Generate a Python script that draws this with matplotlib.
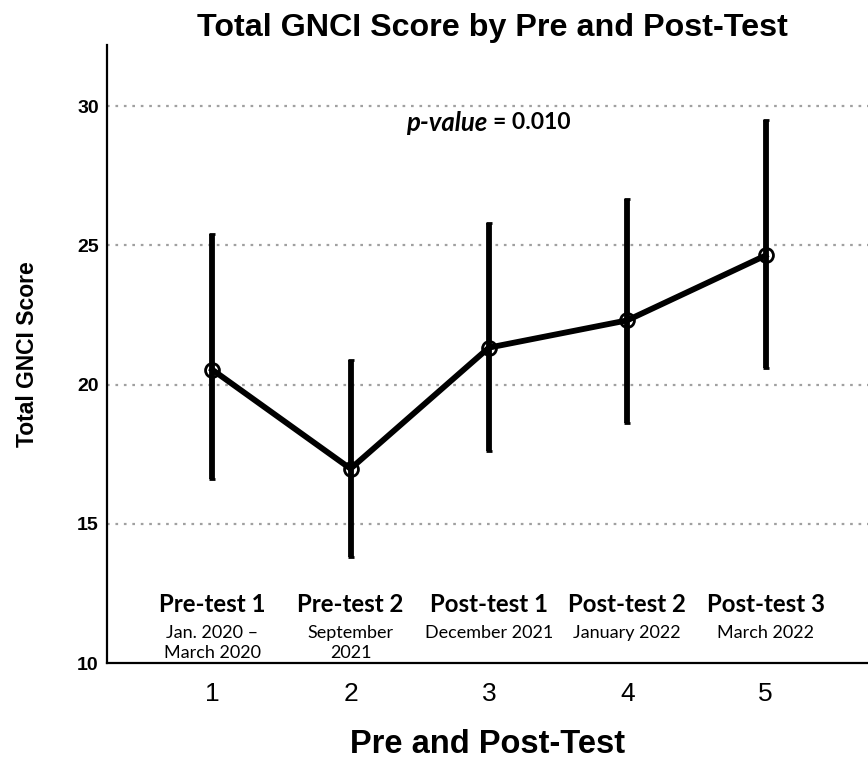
import matplotlib.pyplot as plt

# values
tests = [1, 2, 3, 4, 5]
means = [20.54, 16.98, 21.33, 22.31, 24.64]
upper = [25.42, 20.88, 25.82, 26.68, 29.52]
lower = [16.60, 13.80, 17.60, 18.62, 20.59]
phase_names = ["Pre-test 1", "Pre-test 2", "Post-test 1", "Post-test 2", "Post-test 3"]
phase_dates = ["Jan. 2020 \u2013\nMarch 2020", "September\n2021", "December 2021",
               "January 2022", "March 2022"]
y_ticks = [10, 15, 20, 25, 30]

err_lo = [m - l for m, l in zip(means, lower)]
err_hi = [u - m for u, m in zip(upper, means)]

fig = plt.figure(figsize=(8.68, 7.63), dpi=100)
ax = fig.add_axes([0.1233, 0.131, 0.8767, 0.810])

# dotted grid
for yv in y_ticks[1:]:
    ax.axhline(yv, color="#a0a0a0", linestyle=(0, (1.2, 2.6)), linewidth=1.6, zorder=0)

ax.errorbar(tests, means, yerr=[err_lo, err_hi], fmt="none", ecolor="black",
            elinewidth=4.2, capsize=2.5, capthick=2, zorder=2)
ax.plot(tests, means, color="black", linewidth=4.2, zorder=3)
ax.plot(tests, means, linestyle="none", marker="o", markersize=10,
        markerfacecolor="none", markeredgecolor="black", markeredgewidth=2, zorder=4)

ax.set_xlim(0.24, 5.74)
ax.set_ylim(10, 32.2)
ax.set_xticks(tests)
ax.set_xticklabels([str(t) for t in tests], fontsize=19, family="Liberation Sans")
ax.set_yticks(y_ticks)
ax.set_yticklabels([str(t) for t in y_ticks], fontsize=14, fontweight="bold",
                   family="Liberation Sans")
ax.tick_params(axis="both", length=0)
ax.tick_params(axis="x", pad=14)
ax.tick_params(axis="y", pad=6)

for side in ["top", "right"]:
    ax.spines[side].set_visible(False)
for side in ["left", "bottom"]:
    ax.spines[side].set_linewidth(1.6)
    ax.spines[side].set_color("black")

for t, name, date in zip(tests, phase_names, phase_dates):
    ax.text(t, 12.1, name, ha="center", va="center", fontsize=17.3,
            fontweight="bold", family="Lato")
    ax.text(t, 11.35, date, ha="center", va="top", fontsize=13,
            family="Lato", linespacing=1.3)

ax.text(2.99, 29.4, "p-value", ha="right", va="center", fontsize=18.5,
        fontweight="bold", style="italic", family="Lato")
ax.text(3.03, 29.4, "= 0.010", ha="left", va="center", fontsize=16.5,
        fontweight="bold", family="Lato")

fig.text(0.567, 0.963, "Total GNCI Score by Pre and Post-Test", ha="center",
         va="center", fontsize=23.2, fontweight="bold", family="Liberation Sans")
ax.set_xlabel("Pre and Post-Test", fontsize=23.5, fontweight="bold",
              family="Liberation Sans", labelpad=16)
ax.set_ylabel("Total GNCI Score", fontsize=16.5, fontweight="bold",
              family="Liberation Sans", labelpad=27)

fig.savefig("out.png", dpi=100)
